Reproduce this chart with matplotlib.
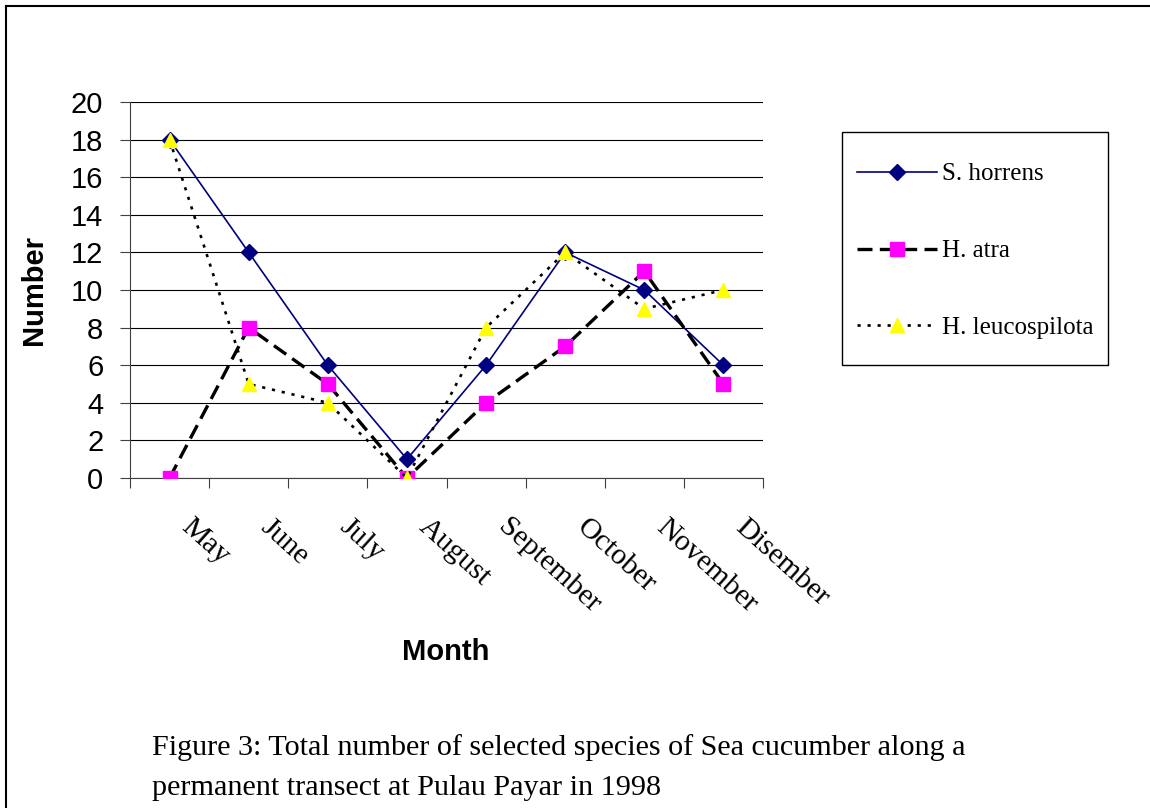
import matplotlib
matplotlib.use("Agg")
import matplotlib.pyplot as plt
from matplotlib.lines import Line2D
from matplotlib.patches import Rectangle
from matplotlib.transforms import ScaledTranslation

months = ["May", "June", "July", "August", "September", "October", "November", "Disember"]
s_horrens = [18, 12, 6, 1, 6, 12, 10, 6]
h_atra = [0, 8, 5, 0, 4, 7, 11, 5]
h_leucospilota = [18, 5, 4, 0, 8, 12, 9, 10]
series_names = ["S. horrens", "H. atra", "H. leucospilota"]
y_ticks = list(range(0, 21, 2))

W, H = 1150, 808
fig = plt.figure(figsize=(W / 100, H / 100), dpi=100)
fig.patch.set_facecolor("white")

def fx(px):
    return px / W

def fy(py):
    return 1 - py / H

ax = fig.add_axes([fx(130), fy(478), fx(763) - fx(130), fy(102) - fy(478)])

x = list(range(len(months)))
l1, = ax.plot(x, s_horrens, color="#000080", lw=1.2, marker="D", ms=8,
              mfc="#000080", mec="#000080", zorder=3, label=series_names[0])
l2, = ax.plot(x, h_atra, color="black", lw=2.4, dashes=(4.5, 2.2), marker="s", ms=9.5,
              mfc="#FF00FF", mec="#FF00FF", zorder=4, label=series_names[1])
l3, = ax.plot(x, h_leucospilota, color="black", lw=1.9, dashes=(1.2, 2.6), marker="^", ms=10,
              mfc="#FFFF00", mec="#FFFF00", zorder=5, label=series_names[2])

ax.set_xlim(-0.5, len(months) - 0.5)
ax.set_ylim(0, 20)
ax.set_yticks(y_ticks)
ax.set_yticklabels([str(v) for v in y_ticks], fontsize=21, family="Liberation Sans")
ax.tick_params(axis="y", length=7.2, width=0.8, pad=12, color="#404040")

ax.set_xticks(x)
ax.set_xticklabels(months, fontsize=21.5, family="Liberation Serif", rotation=-42,
                   ha="left", va="top", rotation_mode="anchor")
ax.tick_params(axis="x", which="major", length=0, pad=26)
for lab in ax.get_xticklabels():
    lab.set_transform(lab.get_transform() + ScaledTranslation(0.24, 0, fig.dpi_scale_trans))
ax.set_xticks([i - 0.5 for i in range(len(months) + 1)], minor=True)
ax.tick_params(axis="x", which="minor", length=7.2, width=0.8, color="#404040")

ax.yaxis.grid(True, color="black", lw=0.8)
ax.set_axisbelow(True)
for side in ["top", "right"]:
    ax.spines[side].set_visible(False)
for side in ["left", "bottom"]:
    ax.spines[side].set_color("#404040")
    ax.spines[side].set_linewidth(0.8)

fig.text(fx(34), fy(290), "Number", rotation=90, fontsize=21, fontweight="bold",
         family="Liberation Sans", ha="center", va="center")
fig.text(fx(446), fy(652), "Month", fontsize=21, fontweight="bold",
         family="Liberation Sans", ha="center", va="center")

fig.text(fx(152), fy(748), "Figure 3: Total number of selected species of Sea cucumber along a",
         fontsize=21.7, family="Liberation Serif", ha="left", va="center")
fig.text(fx(152), fy(788), "permanent transect at Pulau Payar in 1998",
         fontsize=21.7, family="Liberation Serif", ha="left", va="center")

leg = fig.legend(handles=[l1, l2, l3], loc="upper left",
                 bbox_to_anchor=(fx(857), fy(163)), frameon=False,
                 prop={"family": "Liberation Serif", "size": 18},
                 handlelength=3.2, handletextpad=0.2, labelspacing=2.17,
                 borderpad=0, borderaxespad=0, numpoints=1)
fig.add_artist(Rectangle((fx(842), fy(365)), fx(1108) - fx(842), fy(132) - fy(365),
                         transform=fig.transFigure, fill=False, edgecolor="black", lw=1.0))

# outer border (top and left edges visible)
fig.add_artist(Line2D([fx(6), 1], [fy(6), fy(6)], color="black", lw=1.5, transform=fig.transFigure))
fig.add_artist(Line2D([fx(6), fx(6)], [fy(6), 0], color="black", lw=1.5, transform=fig.transFigure))

fig.savefig("out.png", dpi=100, facecolor="white")
